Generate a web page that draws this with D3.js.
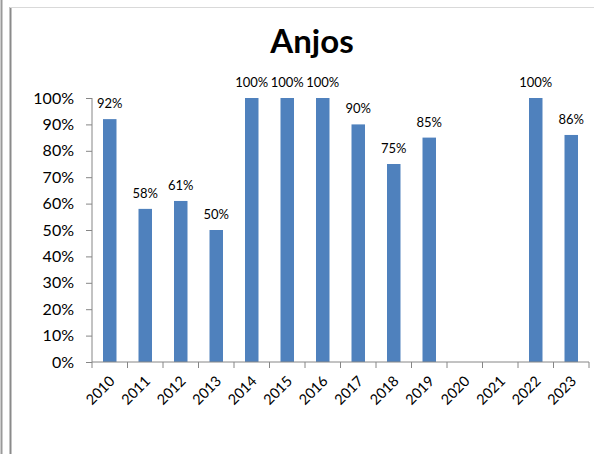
<!DOCTYPE html>
<html>
<head>
<meta charset="utf-8">
<script src="https://cdn.jsdelivr.net/npm/d3@7"></script>
<style>
  body { margin: 0; background: #fff; }
  text { font-family: Lato, "Open Sans", sans-serif; fill: #000; }
</style>
</head>
<body>
<div id="chart"></div>
<script>
var years = ["2010", "2011", "2012", "2013", "2014", "2015", "2016",
             "2017", "2018", "2019", "2020", "2021", "2022", "2023"];
var values = [92, 58, 61, 50, 100, 100, 100, 90, 75, 85, null, null, 100, 86];
var yTicks = [0, 10, 20, 30, 40, 50, 60, 70, 80, 90, 100];

var W = 594, H = 454;
var margin = { top: 98, right: 5, bottom: 92, left: 92 },
    width = W - margin.left - margin.right,
    height = H - margin.top - margin.bottom;

var svg = d3.select("#chart").append("svg")
    .attr("width", W)
    .attr("height", H);

// frame lines around the chart area
svg.append("line").attr("x1", 1.5).attr("x2", 1.5).attr("y1", 0).attr("y2", H)
    .style("stroke", "#9a9a9a").style("stroke-width", 2);
svg.append("line").attr("x1", 10.5).attr("x2", 10.5).attr("y1", 7).attr("y2", H)
    .style("stroke", "#8a8a8a").style("stroke-width", 2);
svg.append("line").attr("x1", 10).attr("x2", W).attr("y1", 7.5).attr("y2", 7.5)
    .style("stroke", "#d9d9d9").style("stroke-width", 1);

// title
svg.append("text")
    .attr("x", 312)
    .attr("y", 53)
    .attr("text-anchor", "middle")
    .style("font-size", "33px")
    .style("font-weight", "bold")
    .text("Anjos");

var g = svg.append("g")
    .attr("transform", "translate(" + margin.left + "," + margin.top + ")");

var x = d3.scaleBand().domain(years).range([0, width]).paddingInner(0.62).paddingOuter(0.31);
var xb = d3.scaleBand().domain(years).range([0, width]);
var y = d3.scaleLinear().domain([0, 100]).range([height, 0]);

var rows = years.map(function (d, i) { return { year: d, v: values[i] }; })
    .filter(function (d) { return d.v !== null; });

// bars
g.selectAll(".bar")
    .data(rows)
    .enter().append("rect")
    .attr("class", "bar")
    .attr("x", function (d) { return x(d.year); })
    .attr("width", x.bandwidth())
    .attr("y", function (d) { return y(d.v); })
    .attr("height", function (d) { return height - y(d.v); })
    .style("fill", "#4f81bd");

// data labels
g.selectAll(".lbl")
    .data(rows)
    .enter().append("text")
    .attr("class", "lbl")
    .attr("x", function (d) { return xb(d.year) + xb.bandwidth() / 2; })
    .attr("y", function (d) { return y(d.v) - 11; })
    .attr("text-anchor", "middle")
    .style("font-size", "13px")
    .text(function (d) { return d.v + "%"; });

// y axis
var yAxis = g.append("g")
    .call(d3.axisLeft(y).tickValues(yTicks).tickSize(6).tickPadding(12)
        .tickFormat(function (d) { return d + "%"; }));
yAxis.selectAll("text").style("font-size", "16px");
yAxis.selectAll("line, path").style("stroke", "#868686");
yAxis.select(".domain").attr("d", "M0,0V" + height);

// x axis
var xAxis = g.append("g")
    .attr("transform", "translate(0," + height + ")")
    .call(d3.axisBottom(xb).tickSize(0).tickPadding(0));
xAxis.select(".domain").attr("d", "M0,0H" + width).style("stroke", "#868686");
xAxis.selectAll("text")
    .style("font-size", "14.5px")
    .style("text-anchor", "end")
    .attr("dy", null)
    .attr("y", 0)
    .attr("transform", "translate(6,20) rotate(-45)");

// tick marks at category boundaries
g.selectAll(".xtick")
    .data(years.concat(["end"]))
    .enter().append("line")
    .attr("x1", function (d, i) { return i * xb.bandwidth(); })
    .attr("x2", function (d, i) { return i * xb.bandwidth(); })
    .attr("y1", height)
    .attr("y2", height + 6)
    .style("stroke", "#868686");
</script>
</body>
</html>
